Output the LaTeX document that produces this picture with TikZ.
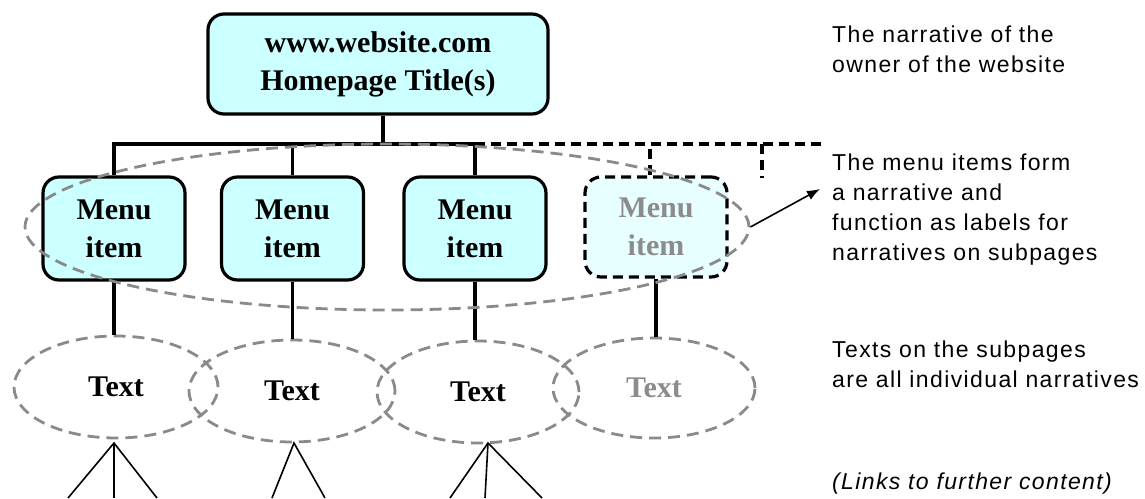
\documentclass[tikz,border=0pt]{standalone}
\usepackage{fontspec}
\setmainfont{Liberation Serif}
\newfontfamily\sansf{Liberation Sans}[LetterSpace=6]
\usetikzlibrary{shapes.geometric,arrows.meta}
\definecolor{boxfill}{HTML}{CCFFFF}
\definecolor{ghostfill}{HTML}{E8FFFF}
\definecolor{dashgray}{HTML}{8A8A8A}
\definecolor{ghosttext}{HTML}{8C8C8C}
\tikzset{
 serif/.style={font=\fontsize{30}{38}\selectfont\bfseries},
 boxnode/.style={draw, line width=3.2pt, rounded corners=16pt, fill=boxfill, minimum width=142pt, minimum height=103pt, align=center, inner sep=0pt, serif},
 ghostbox/.style={boxnode, fill=ghostfill, dash pattern=on 10pt off 6pt, text=ghosttext},
 conn/.style={line width=3.2pt},
 ghostconn/.style={line width=3.2pt, dash pattern=on 10pt off 6pt},
 textell/.style={ellipse, draw=dashgray, line width=2.8pt, dash pattern=on 12pt off 7pt, inner sep=0pt, serif},
 branch/.style={line width=1.6pt},
 note/.style={font=\sansf\fontsize{23}{30}\selectfont, align=left, anchor=north west, inner sep=0pt},
}
\begin{document}
\begin{tikzpicture}[x=1pt,y=-1pt]
\path[use as bounding box, fill=white] (0,0) rectangle (1145,498);
% boxes
\node[boxnode, minimum width=340pt, minimum height=100pt] (title) at (378,64) {www.website.com\\Homepage Title(s)};
\node[boxnode] (m1) at (114,228.5) {Menu\\item};
\node[boxnode] (m2) at (292.5,228.5) {Menu\\item};
\node[boxnode] (m3) at (475,228.5) {Menu\\item};
\node[ghostbox, minimum height=100pt] (m4) at (656,227) {Menu\\item};
% bus
\coordinate (bus) at (383,144);
\coordinate (busend) at (827,144);
\coordinate (stub) at (762,178);
\draw[conn] (title.south -| bus) -- (bus);
\draw[conn] (m1.north) -- (m1.north |- bus) -- (m3.north |- bus) -- (m3.north);
\draw[conn] (m2.north) -- (m2.north |- bus);
\draw[ghostconn] (m3.north |- bus) -- (busend);
\draw[ghostconn] ([xshift=-6pt]m4.north) -- ([xshift=-6pt]m4.north |- bus);
\draw[ghostconn] (stub |- bus) -- (stub);
% text ellipses
\node[textell, minimum width=204pt, minimum height=102pt] (t1) at (116,387) {Text};
\node[textell, minimum width=206pt, minimum height=102pt] (t2) at (292,391) {Text};
\node[textell, minimum width=202pt, minimum height=102pt] (t3) at (478,392) {Text};
\node[textell, minimum width=202pt, minimum height=100pt, text=ghosttext] (t4) at (654,388) {Text};
\draw[conn] (m1.south) -- (m1.south |- t1.north);
\draw[conn] (m2.south) -- (m2.south |- t2.north);
\draw[conn] (m3.south) -- (m3.south |- t3.north);
\draw[conn] (m4.south) -- (m4.south |- t4.north);
% group ellipse
\node[textell, minimum width=724pt, minimum height=166pt] (grp) at (387,227) {};
% trees
\coordinate (a1) at (114,443);
\coordinate (a1l) at (68,498);
\coordinate (a1m) at (114,498);
\coordinate (a1r) at (157,498);
\coordinate (a2) at (294,443);
\coordinate (a2l) at (272,498);
\coordinate (a2r) at (325,498);
\coordinate (a3) at (488,443);
\coordinate (a3l) at (450,498);
\coordinate (a3m) at (485,498);
\coordinate (a3r) at (542,498);
\draw[branch] (a1l) -- (a1) -- (a1r);
\draw[branch] (a1) -- (a1m);
\draw[branch] (a2l) -- (a2) -- (a2r);
\draw[branch] (a3l) -- (a3) -- (a3r);
\draw[branch] (a3) -- (a3m);
% notes
\node[note] (n1) at (832,26) {The narrative of the\\owner of the website};
\node[note] (n2) at (832,154) {The menu items form\\a narrative and\\function as labels for\\narratives on subpages};
\node[note] (n3) at (832,341) {Texts on the subpages\\are all individual narratives};
\node[note, font=\sansf\fontsize{23}{30}\selectfont\itshape] (n4) at (832,473) {(Links to further content)};
\coordinate (arrtip) at (820,189);
\draw[line width=1.6pt, -{Latex[length=13pt,width=10pt]}] (grp.east) -- (arrtip);
\end{tikzpicture}
\end{document}
